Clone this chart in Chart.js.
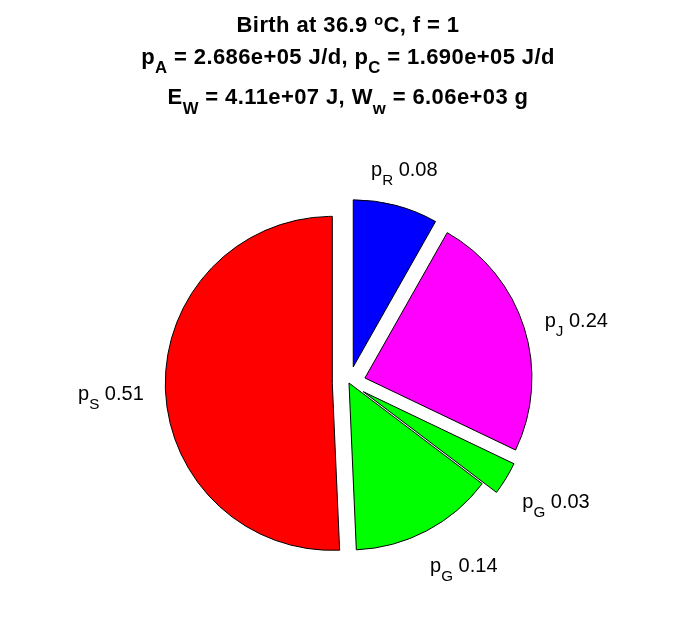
<!DOCTYPE html>
<html lang="en">
<head>
<meta charset="UTF-8">
<title>Birth at 36.9 °C pie</title>
<style>
  body { margin: 0; background: #fff; }
  canvas { display: block; }
</style>
</head>
<body>
<canvas id="chart" width="696" height="618"></canvas>
<script src="https://cdn.jsdelivr.net/npm/chart.js"></script>
<script>
// data, clockwise from 12 o'clock
const sliceNames = ['p_{R}', 'p_{J}', 'p_{G}', 'p_{G}', 'p_{S}'];
const sliceValues = [0.082, 0.239, 0.032, 0.140, 0.507];
const sliceColors = ['#0000ff', '#ff00ff', '#00ff00', '#00ff00', '#ff0000'];
const sliceExploded = [true, true, true, false, true];
const titleLines = [
  'Birth at 36.9 ^{o}C, f = 1',
  'p_{A} = 2.686e+05 J/d, p_{C} = 1.690e+05 J/d',
  'E_{W} = 4.11e+07 J, W_{w} = 6.06e+03 g'
];

const FONT = "'Liberation Sans', Arial, sans-serif";
const R = 167;            // pie radius
const EXPLODE = 0.1 * R;  // matlab explode distance

// split "p_{A}" / "^{o}" into runs
function parseRich(str) {
  const out = [];
  const re = /([_^])\{([^}]*)\}/g;
  let last = 0, m;
  while ((m = re.exec(str))) {
    if (m.index > last) out.push({t: str.slice(last, m.index), k: 0});
    out.push({t: m[2], k: m[1] === '_' ? 1 : -1});
    last = re.lastIndex;
  }
  if (last < str.length) out.push({t: str.slice(last), k: 0});
  return out;
}
function runFont(k, size, bold) {
  const s = k === 1 ? size * 0.76 : (k === -1 ? size * 0.66 : size);
  return (bold ? 'bold ' : '') + s.toFixed(1) + 'px ' + FONT;
}
function richWidth(ctx, str, size, bold) {
  let w = 0;
  parseRich(str).forEach(r => { ctx.font = runFont(r.k, size, bold); w += ctx.measureText(r.t).width; });
  return w;
}
function drawRich(ctx, str, x, y, size, bold) {
  // x is the left edge, y the baseline
  ctx.textAlign = 'left';
  ctx.textBaseline = 'alphabetic';
  parseRich(str).forEach(r => {
    ctx.font = runFont(r.k, size, bold);
    const dy = r.k === 1 ? size * 0.45 : (r.k === -1 ? -size * 0.3 : 0);
    ctx.fillText(r.t, x, y + dy);
    x += ctx.measureText(r.t).width;
  });
}

// move each exploded arc out along its mid angle
const explodePlugin = {
  id: 'explode',
  afterDatasetsUpdate(chart) {
    chart.getDatasetMeta(0).data.forEach((arc, i) => {
      if (!sliceExploded[i]) return;
      const mid = (arc.startAngle + arc.endAngle) / 2;
      arc.x += Math.cos(mid) * EXPLODE;
      arc.y += Math.sin(mid) * EXPLODE;
    });
  }
};

const labelPlugin = {
  id: 'sliceLabels',
  afterDatasetsDraw(chart) {
    const ctx = chart.ctx;
    ctx.save();
    ctx.fillStyle = '#000';
    chart.getDatasetMeta(0).data.forEach((arc, i) => {
      const mid = (arc.startAngle + arc.endAngle) / 2;
      const dx = Math.cos(mid), dy = Math.sin(mid);
      const ax = arc.x + 1.2 * R * dx, ay = arc.y + 1.2 * R * dy;
      const txt = sliceNames[i] + ' ' + sliceValues[i].toFixed(2);
      const size = 20;
      const w = richWidth(ctx, txt, size, false);
      const cx = ax + (Math.abs(dx) > 0.4 ? Math.sign(dx) * w * 0.32 : 0);
      const base = ay + 12 + 9 * Math.min(0, dy);
      drawRich(ctx, txt, cx - w / 2, base, size, false);
    });
    ctx.restore();
  }
};

const titlePlugin = {
  id: 'richTitle',
  afterDraw(chart) {
    const ctx = chart.ctx;
    const baselines = [32, 63.5, 104];
    ctx.save();
    ctx.fillStyle = '#000';
    ctx.letterSpacing = '0.4px';
    titleLines.forEach((line, i) => {
      const w = richWidth(ctx, line, 22, true);
      drawRich(ctx, line, 348 - w / 2, baselines[i], 22, true);
    });
    ctx.restore();
  }
};

new Chart(document.getElementById('chart'), {
  type: 'pie',
  data: {
    labels: sliceNames,
    datasets: [{
      data: sliceValues,
      backgroundColor: sliceColors,
      borderColor: '#000',
      borderWidth: 1,
      radius: R
    }]
  },
  options: {
    responsive: false,
    animation: false,
    events: [],
    layout: { padding: { top: 148, left: 2, right: 0, bottom: 0 } },
    plugins: { legend: { display: false }, tooltip: { enabled: false }, title: { display: false } }
  },
  plugins: [explodePlugin, labelPlugin, titlePlugin]
});
</script>
</body>
</html>
